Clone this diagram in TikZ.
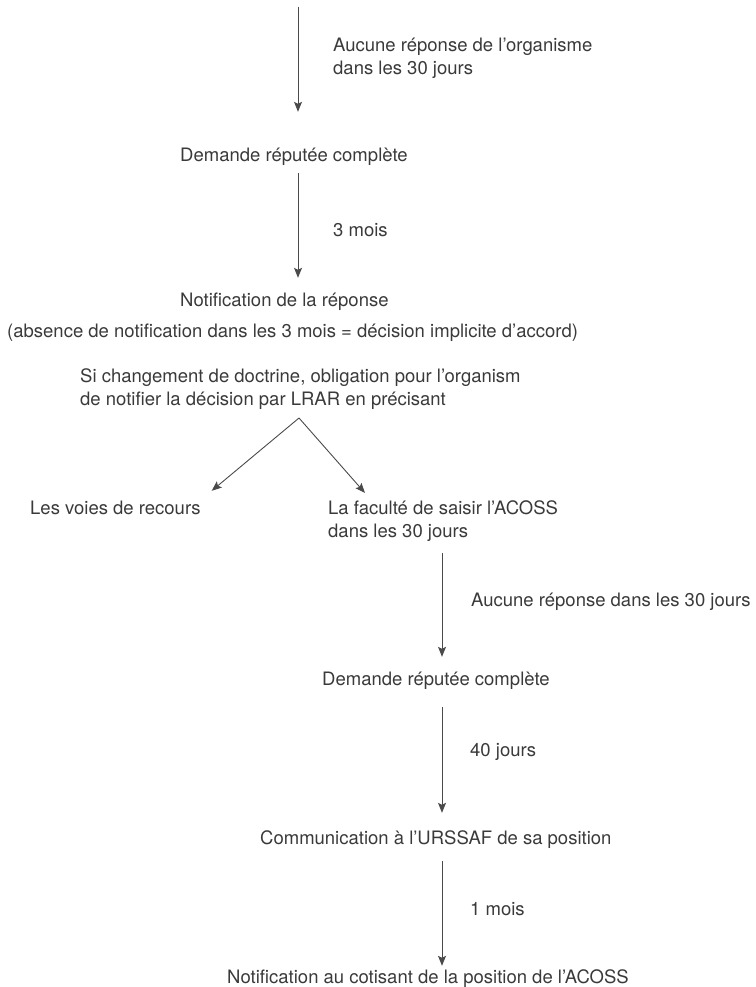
\documentclass[tikz,border=0pt]{standalone}
\usepackage{fontspec}
\setmainfont{TeX Gyre Heros}
\usepackage{xcolor}
\usepackage{tikz}
\usetikzlibrary{positioning,calc,arrows.meta}

\definecolor{txtgray}{HTML}{3A3A3A}
\definecolor{linegray}{HTML}{4A4A4A}

\begin{document}
\begin{tikzpicture}[x=1pt,y=-1pt,
    font=\fontsize{18.5}{23}\selectfont,
    lbl/.style={anchor=base west,inner sep=0pt,align=left,text=txtgray},
    state/.style={lbl,text height=14pt,text depth=4pt},
    flow/.style={draw=linegray,line width=0.9pt,-{Stealth[length=10pt,width=8pt,inset=2pt]}}]
    \useasboundingbox (0,0) rectangle (755,987);

    % upper column
    \coordinate (top) at (298,7);
    \node[lbl] (lbl1) at (333,74.6) {Aucune réponse de l’organisme\\dans les 30 jours};
    \node[state] (dem1) at (180,161.6) {Demande réputée complète};
    \node[lbl] (lbl2) at (333,236.6) {3 mois};
    \node[state] (notif1) at (180,306.6) {Notification de la réponse};
    \node[state] (absence) at (7,337.6) {(absence de notification dans les 3 mois = décision implicite d’accord)};
    \node[lbl] (doctrine) at (80,405.6) {Si changement de doctrine, obligation pour l’organism\\de notifier la décision par LRAR en précisant};

    \draw[flow] (top) -- (top |- dem1.north) [shorten >=35.6pt];
    \draw[flow,shorten <=7.4pt,shorten >=14.6pt] (top |- dem1.south) -- (top |- notif1.north);

    % the two ways
    \coordinate (apex) at (299,418);
    \node[state] (voies) at (30,514.6) {Les voies de recours};
    \node[lbl] (faculte) at (328,537.6) {La faculté de saisir l’ACOSS\\dans les 30 jours};
    \draw[flow] (apex) -- ([shift={(11,-9.6)}]voies.north east);
    \draw[flow] (apex) -- ([shift={(37,-44.6)}]faculte.base west);

    % lower column
    \coordinate (axis) at (442,0);
    \node[lbl] (lbl3) at (471,606.6) {Aucune réponse dans les 30 jours};
    \node[state] (dem2) at (322,685.6) {Demande réputée complète};
    \node[lbl] (lbl4) at (470,756.6) {40 jours};
    \node[state] (comm) at (260,844.6) {Communication à l’URSSAF de sa position};
    \node[lbl] (lbl5) at (470,915.6) {1 mois};
    \node[state] (notif2) at (227,983.6) {Notification au cotisant de la position de l’ACOSS};

    \draw[flow,shorten <=11.5pt,shorten >=14.6pt] (axis |- faculte.south) -- (axis |- dem2.north);
    \draw[flow,shorten <=17.4pt,shorten >=17.6pt] (axis |- dem2.south) -- (axis |- comm.north);
    \draw[flow,shorten <=12.4pt,shorten >=3.6pt] (axis |- comm.south) -- (axis |- notif2.north);
\end{tikzpicture}
\end{document}
